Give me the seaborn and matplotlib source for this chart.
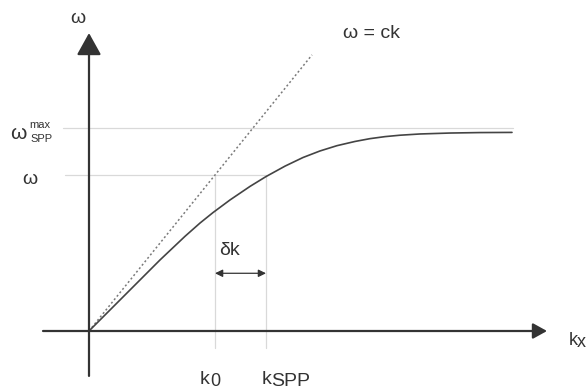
import matplotlib
matplotlib.use("Agg")
import matplotlib.pyplot as plt
import seaborn as sns
import pandas as pd

# ---- data (k in units of k0, omega in units of omega at k0) ----
k_curve = [0, 0.167, 0.365, 0.563, 0.762, 0.881, 0.984, 1.119, 1.278, 1.405,
           1.556, 1.698, 1.833, 1.968, 2.111, 2.230, 2.349, 2.468, 2.627,
           2.865, 3.103, 3.357]
w_curve = [0, 0.135, 0.295, 0.455, 0.607, 0.692, 0.759, 0.840, 0.927, 0.990,
           1.057, 1.112, 1.154, 1.188, 1.215, 1.233, 1.246, 1.255, 1.263,
           1.269, 1.272, 1.273]
k_light = [0, 1.77]
w_light = [0, 1.77]
k0 = 1.0
k_spp = 1.405
w_level = 1.0
w_max = 1.30

sns.set_theme(style="white")
plt.rcParams["font.family"] = ["Liberation Sans", "DejaVu Sans"]

fig = plt.figure(figsize=(5.87, 3.90), dpi=100)
ax = fig.add_axes([0, 0, 1, 1])

light = "#d9d9d9"
dark = "#333333"

# guide lines
ax.plot([-0.206, 3.365], [w_max, w_max], color=light, lw=0.9, zorder=1)
ax.plot([-0.19, k_spp], [w_level, w_level], color=light, lw=0.9, zorder=1)
ax.plot([k0, k0], [w_level, -0.109], color=light, lw=0.9, zorder=1)
ax.plot([k_spp, k_spp], [w_level, -0.109], color=light, lw=0.9, zorder=1)

# light line and SPP dispersion
df_light = pd.DataFrame({"k": k_light, "w": w_light})
sns.lineplot(data=df_light, x="k", y="w", ax=ax, color="#7a7a7a", lw=1.1,
             linestyle=(0, (1.3, 1.6)), zorder=2)
df_curve = pd.DataFrame({"k": k_curve, "w": w_curve})
sns.lineplot(data=df_curve, x="k", y="w", ax=ax, color="#444444", lw=1.2,
             sort=False, zorder=3)
ax.set_xlim(-89 / 126, 498 / 126)
ax.set_ylim(-59 / 156, 331 / 156)
ax.axis("off")

# axes arrows
ax.annotate("", xy=(3.635, 0), xytext=(-0.365, 0),
            arrowprops=dict(arrowstyle="-|>,head_length=8.5,head_width=4.7",
                            mutation_scale=1, lw=1.6, color=dark,
                            shrinkA=0, shrinkB=0), zorder=4)
ax.annotate("", xy=(0, 1.91), xytext=(0, -0.288),
            arrowprops=dict(arrowstyle="-|>,head_length=13.5,head_width=7.5",
                            mutation_scale=1, lw=1.6, color=dark,
                            shrinkA=0, shrinkB=0), zorder=4)

# delta k arrow
ax.annotate("", xy=(k_spp, 0.37), xytext=(k0, 0.37),
            arrowprops=dict(arrowstyle="<|-|>,head_length=4.5,head_width=2.2",
                            mutation_scale=1, lw=0.9, color=dark,
                            shrinkA=0, shrinkB=0), zorder=4)

tc = "#333333"
ax.text(-0.087, 2.006, "ω", fontsize=14, ha="center", va="center", color=tc)
ax.text(2.016, 1.904, "ω = ck", fontsize=14, ha="left", va="center", color=tc)
ax.text(-0.627, 1.265, "ω", fontsize=15, ha="left", va="center", color=tc)
ax.text(-0.476, 1.321, "max", fontsize=8, ha="left", va="center", color=tc)
ax.text(-0.468, 1.231, "SPP", fontsize=8, ha="left", va="center", color=tc)
ax.text(-0.468, 0.968, "ω", fontsize=14, ha="center", va="center", color=tc)
ax.text(1.115, 0.519, "δk", fontsize=14, ha="center", va="center", color=tc)

ax.text((200 - 89) / 126, -0.340, "k", fontsize=14, ha="left", va="baseline", color=tc)
ax.text((210 - 89) / 126, -0.352, "0", fontsize=13, ha="left", va="baseline", color=tc)
ax.text((262 - 89) / 126, -0.340, "k", fontsize=14, ha="left", va="baseline", color=tc)
ax.text((271 - 89) / 126, -0.352, "SPP", fontsize=14, ha="left", va="baseline", color=tc)
ax.text((569 - 89) / 126, -0.09, "k", fontsize=13, ha="left", va="baseline", color=tc)
ax.text((577 - 89) / 126, -0.103, "x", fontsize=13, ha="left", va="baseline", color=tc)

fig.savefig("out.png", dpi=100)
